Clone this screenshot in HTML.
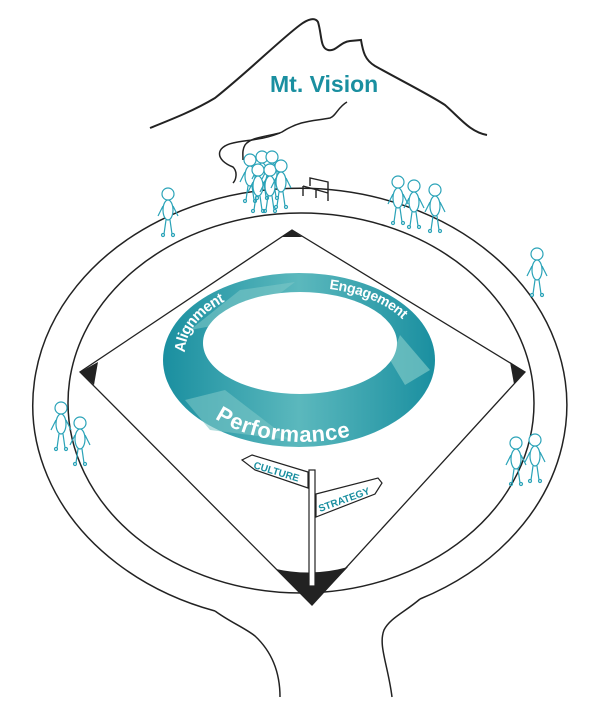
<!DOCTYPE html>
<html><head><meta charset="utf-8"><style>
html,body{margin:0;padding:0;background:#fff;}
svg{display:block;}
</style></head><body>
<svg width="600" height="707" viewBox="0 0 600 707" xmlns="http://www.w3.org/2000/svg">
<defs>
<linearGradient id="rg" x1="0" y1="0" x2="1" y2="0">
<stop offset="0" stop-color="#1a8fa0"/><stop offset="0.5" stop-color="#5bb8bd"/><stop offset="1" stop-color="#1a8fa0"/>
</linearGradient>
<g id="p" fill="none" stroke="#2aa3b8" stroke-width="1.2">
<circle cx="0" cy="0" r="6" fill="#fff"/>
<ellipse cx="0" cy="16" rx="5" ry="10" fill="#fff"/>
<path d="M-2 26 L-4 40 M2 26 L4 40 M-5 12 L-10 22 M5 12 L10 22"/>
<circle cx="-5" cy="41" r="1.5"/><circle cx="5" cy="41" r="1.5"/>
</g>
</defs>
<!-- mountain -->
<path d="M150 128 C175 118 195 110 215 98 C250 70 280 40 300 25 C308 19 315 17 318 22 C322 35 320 48 328 50 C336 52 340 42 350 41 L361 40 C363 52 365 60 375 66 C400 80 430 95 445 105 C460 118 470 132 487 135" fill="none" stroke="#222" stroke-width="2"/>
<!-- path -->
<path d="M347 102 C338 107 336 116 330 118 C315 121 300 120 282 132 C265 140 245 140 233 143 C215 147 215 160 233 167 C238 172 236 180 233 183" fill="none" stroke="#222" stroke-width="1.5"/>
<path d="M280 133 C262 137 250 138 245 145 C242 150 243 155 243 160" fill="none" stroke="#222" stroke-width="1.5"/>
<text x="270" y="92" font-family="Liberation Sans, sans-serif" font-size="23" font-weight="bold" fill="#1a8fa0">Mt. Vision</text>
<!-- outer ellipse with opening -->
<path d="M215 611 A267 217 0 1 1 420 599" fill="none" stroke="#222" stroke-width="1.5"/>
<path d="M215 611 C230 622 245 628 255 636 C270 650 280 670 280 697" fill="none" stroke="#222" stroke-width="1.5"/>
<path d="M420 599 C405 612 390 618 384 630 C378 645 388 665 392 697" fill="none" stroke="#222" stroke-width="1.5"/>
<!-- inner ellipse -->
<ellipse cx="301" cy="403" rx="233" ry="190" fill="none" stroke="#222" stroke-width="1.5"/>
<!-- diamond -->
<path d="M292 230 L80 372 L312 605 L525 372 Z" fill="none" stroke="#222" stroke-width="1.3"/>
<path d="M292 230 L282 237 L302 237 Z" fill="#222"/>
<path d="M80 372 L98 362 L94 385 Z" fill="#222"/>
<path d="M525 372 L510 362 L514 384 Z" fill="#222"/>
<path d="M276 569 Q312 577 348 567 L312 605 Z" fill="#222"/>
<!-- ring -->
<ellipse cx="299" cy="360" rx="136" ry="87" fill="url(#rg)"/>
<path d="M190 330 L240 290 L295 282 L245 320 Z" fill="#7cc7c6" opacity="0.6"/>
<path d="M400 335 L430 370 L405 385 L390 360 Z" fill="#7cc7c6" opacity="0.7"/>
<path d="M185 400 L225 390 L290 440 L210 430 Z" fill="#7cc7c6" opacity="0.6"/>
<ellipse cx="300" cy="343" rx="97" ry="51" fill="#fff"/>
<path id="ta" d="M180 352 A120 72 0 0 1 300 280" fill="none"/>
<path id="te" d="M330 283 A118 70 0 0 1 424 352" fill="none"/>
<path id="tp" d="M195 385 A112 65 0 0 0 415 375" fill="none"/>
<text font-family="Liberation Sans, sans-serif" font-size="15" font-weight="bold" fill="#fff" dy="5"><textPath href="#ta">Alignment</textPath></text>
<text font-family="Liberation Sans, sans-serif" font-size="14" font-weight="bold" fill="#fff" dy="6"><textPath href="#te">Engagement</textPath></text>
<text font-family="Liberation Sans, sans-serif" font-size="22" font-weight="bold" fill="#fff" dy="8"><textPath href="#tp" startOffset="36">Performance</textPath></text>
<!-- signpost -->
<rect x="309" y="470" width="6" height="116" fill="#fff" stroke="#222" stroke-width="1.2"/>
<path d="M252 455 L308 472 L308 488 L255 470 L242 460 Z" fill="#fff" stroke="#222" stroke-width="1.2"/>
<text x="253" y="468" transform="rotate(17 253 468)" font-family="Liberation Sans, sans-serif" font-size="10" font-weight="bold" fill="#1a8fa0">CULTURE</text>
<path d="M316 494 L378 478 L382 483 L375 494 L316 517 Z" fill="#fff" stroke="#222" stroke-width="1.2"/>
<text x="320" y="512" transform="rotate(-20 320 512)" font-family="Liberation Sans, sans-serif" font-size="10" font-weight="bold" fill="#1a8fa0">STRATEGY</text>
<!-- bench -->
<path d="M303 186 L328 193 L328 182 L310 178 L310 186 M303 186 L303 196 M328 193 L328 201 M316 190 L316 198" fill="none" stroke="#222" stroke-width="1.4"/>
<!-- people -->
<use href="#p" x="168" y="194"/>
<use href="#p" x="250" y="160"/><use href="#p" x="262" y="157"/><use href="#p" x="272" y="157"/>
<use href="#p" x="258" y="170"/><use href="#p" x="270" y="170"/><use href="#p" x="281" y="166"/>
<use href="#p" x="398" y="182"/><use href="#p" x="414" y="186"/><use href="#p" x="435" y="190"/>
<use href="#p" x="537" y="254"/>
<use href="#p" x="61" y="408"/><use href="#p" x="80" y="423"/>
<use href="#p" x="516" y="443"/><use href="#p" x="535" y="440"/>
</svg>
</body></html>
